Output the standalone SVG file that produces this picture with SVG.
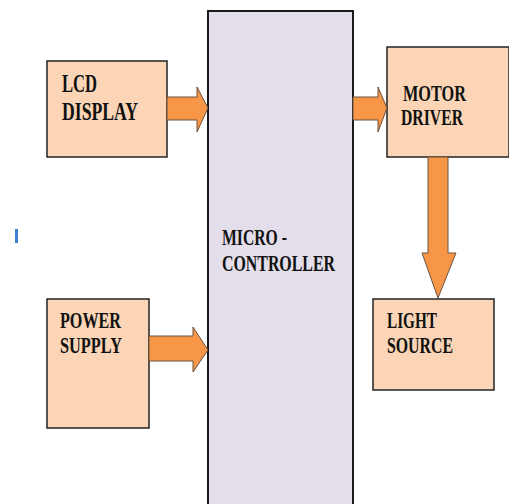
<svg xmlns="http://www.w3.org/2000/svg" width="509" height="504" viewBox="0 0 509 504">
<style>
.box{fill:#FBD5B5;stroke:#222;stroke-width:1.5}
.mc{fill:#E3DEEA;stroke:#1a1a1a;stroke-width:2}
.arr{fill:#F79646;stroke:#6b5240;stroke-width:1}
.t{font-family:"Liberation Serif","Times New Roman",serif;font-weight:bold;font-size:24px;fill:#111}
</style>
<rect width="509" height="504" fill="#fff"/>
<g id="mark"><rect x="15" y="229" width="3" height="14" fill="#3F7FD6"/></g>
<g id="microcontroller">
<rect class="mc" x="208" y="11" width="145" height="500"/>
<text class="t" x="222" y="245" textLength="65" lengthAdjust="spacingAndGlyphs">MICRO -</text>
<text class="t" x="222" y="271" textLength="113" lengthAdjust="spacingAndGlyphs">CONTROLLER</text>
</g>
<g id="lcd">
<rect class="box" x="47" y="61" width="120" height="96"/>
<text class="t" x="62" y="92" textLength="35" lengthAdjust="spacingAndGlyphs" style="font-size:25px">LCD</text>
<text class="t" x="62" y="120" textLength="76" lengthAdjust="spacingAndGlyphs" style="font-size:25px">DISPLAY</text>
</g>
<g id="motor">
<rect class="box" x="387" y="47" width="122" height="110"/>
<text class="t" x="403" y="101" textLength="63" lengthAdjust="spacingAndGlyphs">MOTOR</text>
<text class="t" x="401" y="125" textLength="62" lengthAdjust="spacingAndGlyphs">DRIVER</text>
</g>
<g id="power">
<rect class="box" x="47" y="299" width="102" height="129"/>
<text class="t" x="60" y="328" textLength="61" lengthAdjust="spacingAndGlyphs">POWER</text>
<text class="t" x="60" y="353" textLength="62" lengthAdjust="spacingAndGlyphs">SUPPLY</text>
</g>
<g id="light">
<rect class="box" x="373" y="299" width="121" height="91"/>
<text class="t" x="387" y="328" textLength="50" lengthAdjust="spacingAndGlyphs">LIGHT</text>
<text class="t" x="387" y="353" textLength="66" lengthAdjust="spacingAndGlyphs">SOURCE</text>
</g>
<g id="connectors">
<polygon class="arr" points="167,97 197,97 197,87 208,108 197,132 197,120 167,120"/>
<polygon class="arr" points="353,97 378,97 378,87 387,108 378,132 378,120 353,120"/>
<polygon class="arr" points="149,336 193,336 193,327 208,350 193,372 193,361 149,361"/>
<polygon class="arr" points="428,157 448,157 448,253 456,253 438,298 422,253 428,253"/>
</g>
</svg>
